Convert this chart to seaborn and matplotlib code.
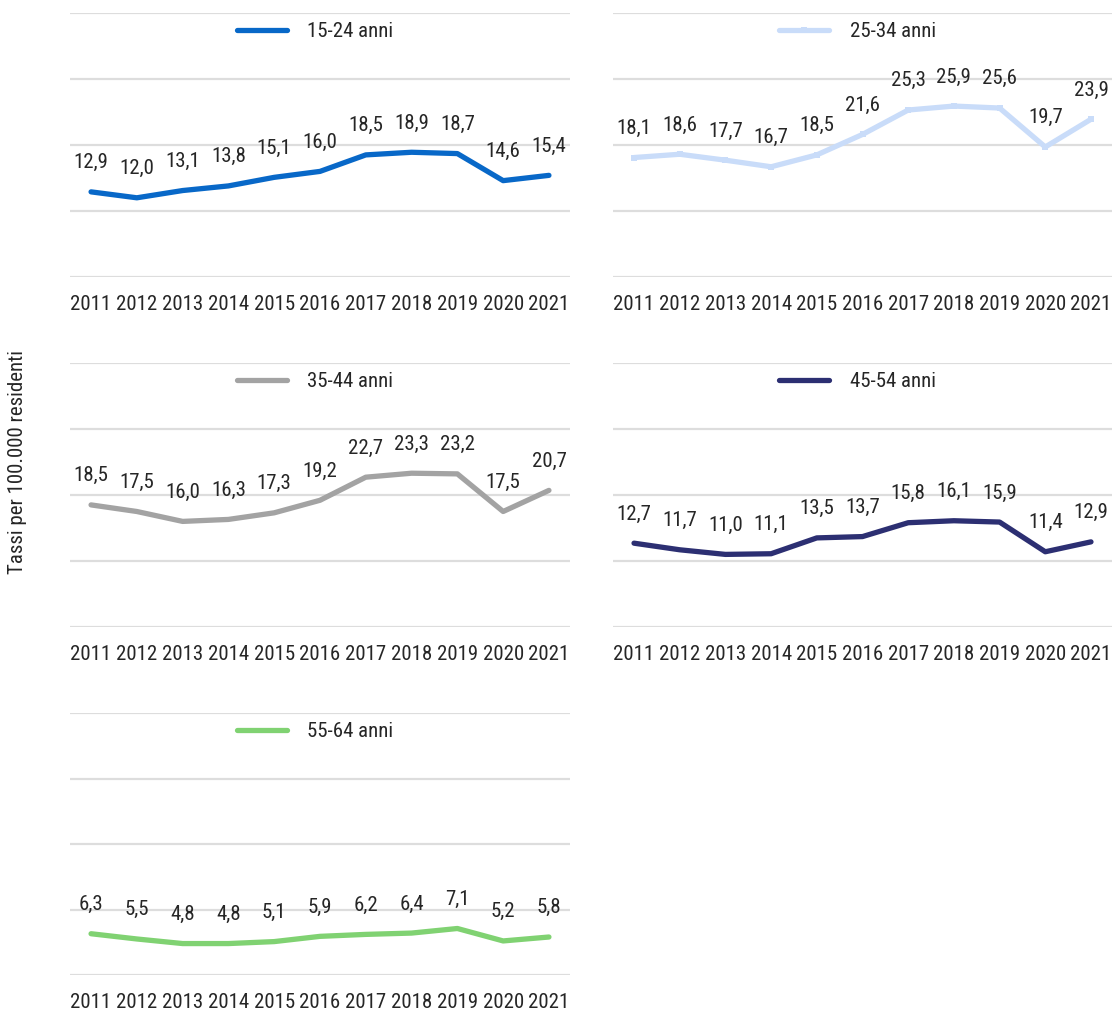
import matplotlib
matplotlib.use("Agg")
import matplotlib.pyplot as plt
from matplotlib import font_manager
import seaborn as sns
import pandas as pd

years = [2011, 2012, 2013, 2014, 2015, 2016, 2017, 2018, 2019, 2020, 2021]
s_15_24 = [12.9, 12.0, 13.1, 13.8, 15.1, 16.0, 18.5, 18.9, 18.7, 14.6, 15.4]
s_25_34 = [18.1, 18.6, 17.7, 16.7, 18.5, 21.6, 25.3, 25.9, 25.6, 19.7, 23.9]
s_35_44 = [18.5, 17.5, 16.0, 16.3, 17.3, 19.2, 22.7, 23.3, 23.2, 17.5, 20.7]
s_45_54 = [12.7, 11.7, 11.0, 11.1, 13.5, 13.7, 15.8, 16.1, 15.9, 11.4, 12.9]
s_55_64 = [6.3, 5.5, 4.8, 4.8, 5.1, 5.9, 6.2, 6.4, 7.1, 5.2, 5.8]
labels = ["15-24 anni", "25-34 anni", "35-44 anni", "45-54 anni", "55-64 anni"]
series = [s_15_24, s_25_34, s_35_44, s_45_54, s_55_64]
colors = ["#0868C8", "#C9DCF9", "#A3A3A3", "#2C2F72", "#80D272"]
markers = [None, "s", None, None, None]
y_label = "Tassi per 100.000 residenti"

sns.set_theme(style="white")
avail = {f.name for f in font_manager.fontManager.ttflist}
fam = [f for f in ["Liberation Sans Narrow", "Roboto Condensed", "Roboto", "DejaVu Sans"] if f in avail]
plt.rcParams["font.family"] = fam
text_color = "#262626"

fig = plt.figure(figsize=(11.14, 10.13), dpi=100)
W, H = 1114, 1013
boxes = [
    (70, 570, 13, 277), (613, 1112, 13, 277),
    (70, 570, 363, 627), (613, 1112, 363, 627),
    (70, 570, 713, 975),
]
for i, (lab, vals, col, mk) in enumerate(zip(labels, series, colors, markers)):
    x0, x1, yt, yb = boxes[i]
    ax = fig.add_axes([x0 / W, 1 - yb / H, (x1 - x0) / W, (yb - yt) / H])
    df = pd.DataFrame({"anno": years, "tasso": vals, "gruppo": lab})
    sns.lineplot(data=df, x="anno", y="tasso", ax=ax, color=col, linewidth=3.8,
                 marker=mk, markersize=5, markeredgewidth=0, label=lab,
                 solid_capstyle="round")
    for xv, yv in zip(years, vals):
        ax.annotate(f"{yv:.1f}".replace(".", ","), (xv, yv), xytext=(0, 21),
                    textcoords="offset points", ha="center", va="center",
                    fontsize=15, color=text_color)
    ax.set_ylim(0, 40)
    ax.set_xlim(2010.54, 2021.46)
    ax.set_yticks([0, 10, 20, 30, 40])
    ax.set_yticklabels([])
    ax.set_xticks(years)
    ax.set_xticklabels([str(y) for y in years], fontsize=15, color=text_color)
    ax.tick_params(axis="both", length=0)
    ax.tick_params(axis="x", pad=13)
    ax.grid(axis="y", color="#DDDDDD", linewidth=1.6)
    ax.set_axisbelow(True)
    for s in ax.spines.values():
        s.set_visible(False)
    ax.set_xlabel("")
    ax.set_ylabel("")
    leg = ax.legend(loc="center", bbox_to_anchor=(0.49, 0.93), frameon=False,
                    fontsize=15, handlelength=2.4, handletextpad=1.0,
                    labelcolor=text_color)
    for h in leg.legend_handles:
        h.set_solid_capstyle("round")

fig.text(18 / W, 1 - 462 / H, y_label, rotation=90, ha="center", va="center",
         fontsize=15, color=text_color)

fig.savefig("out.png", dpi=100)
